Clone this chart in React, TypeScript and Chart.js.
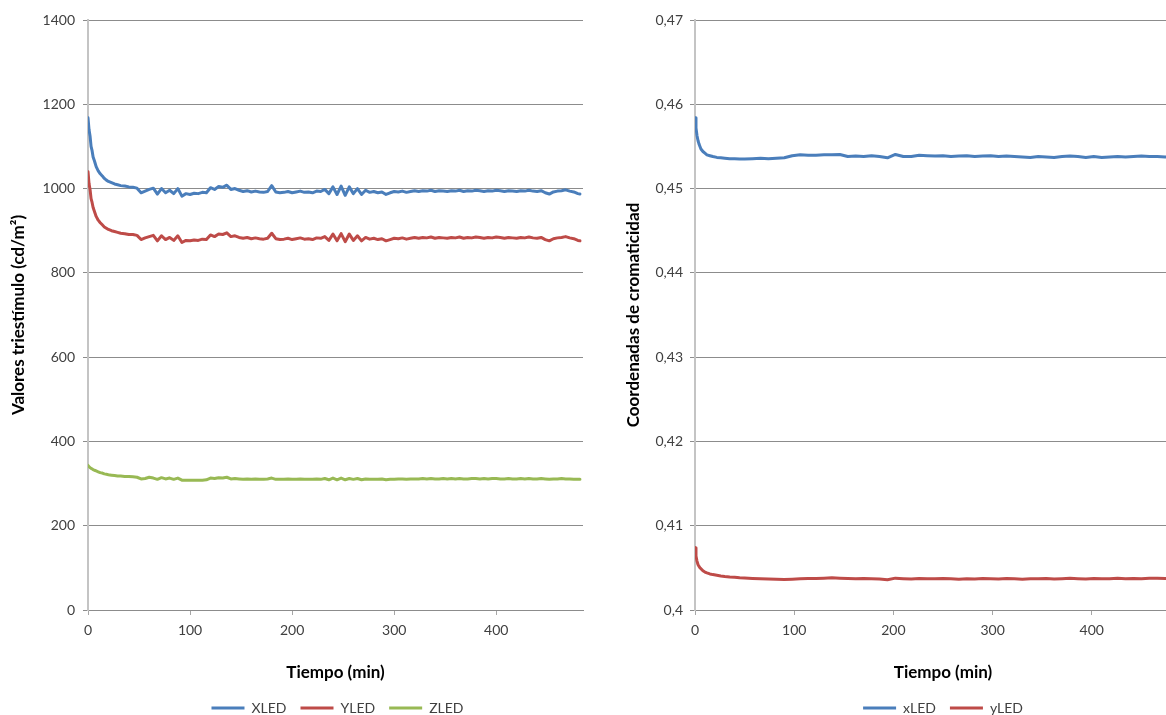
import React, { useEffect, useRef } from 'react';
import { Chart, registerables } from 'chart.js';

Chart.register(...registerables);

// ---------- DATA ----------
// Left chart: tristimulus values (cd/m²) vs time (min)
const leftTime = [
  0, 1, 2, 3, 4, 5, 6, 7, 8, 10, 12, 14, 16, 18, 20, 23, 26, 29, 32, 36, 40, 44,
  48, 52, 56, 60, 64, 68, 72, 76, 80, 84,
  88, 92, 96, 100, 104, 108, 112, 116, 120, 124,
  128, 132, 136, 140, 144, 148, 152, 156, 160, 164,
  168, 172, 176, 180, 184, 188, 192, 196, 200, 204,
  208, 212, 216, 220, 224, 228, 232, 236, 240, 244,
  248, 252, 256, 260, 264, 268, 272, 276, 280, 284,
  288, 292, 296, 300, 304, 308, 312, 316, 320, 324,
  328, 332, 336, 340, 344, 348, 352, 356, 360, 364,
  368, 372, 376, 380, 384, 388, 392, 396, 400, 404,
  408, 412, 416, 420, 424, 428, 432, 436, 440, 444,
  448, 452, 456, 460, 464, 468, 472, 476, 480, 482,
];

const xLedValues = [
  1168, 1140, 1125, 1100, 1090, 1075, 1068, 1060, 1052, 1042, 1035, 1030, 1024, 1020, 1017, 1014, 1011, 1009, 1007, 1006, 1004, 1003,
  1001, 990, 994, 998, 1001, 987, 1000, 990, 996, 988,
  1000, 982, 988, 986, 989, 988, 991, 990, 1002, 998,
  1005, 1003, 1008, 998, 1000, 996, 993, 995, 992, 994,
  992, 991, 993, 1007, 992, 990, 991, 993, 990, 992,
  994, 991, 992, 990, 994, 993, 998, 988, 1004, 986,
  1006, 984, 1004, 988, 1000, 986, 996, 991, 993, 990,
  992, 986, 990, 993, 992, 994, 991, 993, 995, 993,
  995, 994, 996, 993, 995, 994, 993, 995, 994, 996,
  993, 995, 994, 996, 995, 993, 995, 994, 996, 995,
  993, 995, 994, 993, 995, 994, 996, 994, 993, 995,
  990, 987, 992, 994, 995, 997, 994, 992, 988, 987,
];

const yLedValues = [
  1040, 1012, 998, 976, 967, 955, 948, 941, 934, 925, 919, 914, 909, 906, 903, 900, 898, 896, 894, 893, 891, 891,
  889, 879, 883, 886, 889, 876, 888, 879, 884, 877,
  888, 872, 877, 876, 878, 877, 880, 879, 890, 886,
  892, 891, 895, 886, 888, 884, 882, 884, 881, 883,
  881, 880, 882, 894, 881, 879, 880, 882, 879, 881,
  883, 880, 881, 879, 883, 882, 886, 877, 892, 876,
  893, 874, 892, 877, 888, 876, 884, 880, 882, 879,
  881, 876, 879, 882, 881, 883, 880, 882, 884, 882,
  884, 883, 885, 882, 884, 883, 882, 884, 883, 885,
  882, 884, 883, 885, 884, 882, 884, 883, 885, 884,
  882, 884, 883, 882, 884, 883, 885, 883, 882, 884,
  879, 876, 881, 883, 884, 886, 883, 881, 877, 876,
];

const zLedValues = [
  343, 340, 338, 336, 335, 333, 332, 331, 330, 328, 326, 325, 323, 322, 321, 320, 319, 318, 318, 317, 317, 316,
  315, 311, 312, 315, 313, 310, 314, 311, 313, 310,
  313, 308, 308, 308, 308, 308, 308, 309, 313, 312,
  314, 313, 315, 311, 312, 311, 310, 311, 310, 311,
  310, 310, 311, 313, 310, 310, 310, 311, 310, 310,
  311, 310, 310, 310, 311, 310, 312, 309, 313, 309,
  313, 309, 312, 310, 312, 309, 311, 310, 310, 310,
  311, 309, 310, 310, 311, 311, 310, 311, 311, 311,
  312, 311, 312, 311, 311, 312, 311, 312, 311, 312,
  311, 311, 312, 312, 311, 312, 311, 312, 312, 311,
  311, 312, 311, 311, 312, 311, 312, 311, 311, 312,
  311, 310, 311, 311, 312, 311, 311, 310, 310, 310,
];

// Right chart: chromaticity coordinates vs time (min)
const rightTime = [
  0, 1, 2, 3, 4, 5, 6, 8, 10, 12, 15, 18, 22, 26, 30, 35, 40, 45, 50,
  58, 66, 74, 82, 90, 98, 106, 114, 122, 130,
  138, 146, 154, 162, 170, 178, 186, 194, 202, 210,
  218, 226, 234, 242, 250, 258, 266, 274, 282, 290,
  298, 306, 314, 322, 330, 338, 346, 354, 362, 370,
  378, 386, 394, 402, 410, 418, 426, 434, 442, 450,
  458, 466, 474, 482,
];

const xChromValues = [
  0.4584, 0.4572, 0.4563, 0.4557, 0.4553, 0.455, 0.4547, 0.4544, 0.4542, 0.454, 0.4539, 0.4538, 0.4537, 0.45365, 0.4536, 0.45355, 0.45355, 0.4535, 0.4535,
  0.45355, 0.4536, 0.45355, 0.4536, 0.45365, 0.4539, 0.454, 0.45395, 0.45395, 0.454,
  0.454, 0.45405, 0.4538, 0.45385, 0.4538, 0.4539, 0.4538, 0.45365, 0.45405, 0.4538,
  0.4538, 0.45395, 0.4539, 0.45385, 0.4539, 0.4538, 0.45385, 0.4539, 0.4538, 0.45385,
  0.4539, 0.4538, 0.45385, 0.4538, 0.45375, 0.4537, 0.4538, 0.45375, 0.4537, 0.4538,
  0.45385, 0.4538, 0.4537, 0.4538, 0.4537, 0.45375, 0.4538, 0.45375, 0.4538, 0.45385,
  0.4538, 0.4538, 0.45375, 0.4538,
];

const yChromValues = [
  0.4074, 0.4064, 0.4058, 0.4054, 0.4052, 0.405, 0.4049, 0.40465, 0.4045, 0.4044, 0.40428, 0.4042, 0.40412, 0.40404, 0.40398, 0.40392, 0.40388, 0.40382, 0.4038,
  0.40375, 0.40372, 0.40368, 0.40365, 0.40362, 0.40365, 0.4037, 0.40373, 0.40375, 0.40378,
  0.40382, 0.40378, 0.40375, 0.40372, 0.40375, 0.40372, 0.40368, 0.40358, 0.40378, 0.40372,
  0.40368, 0.40374, 0.40372, 0.4037, 0.40374, 0.4037, 0.40364, 0.40372, 0.40368, 0.40374,
  0.40372, 0.40368, 0.40374, 0.4037, 0.40366, 0.40372, 0.4037, 0.40374, 0.40368, 0.40372,
  0.40376, 0.40372, 0.40368, 0.40374, 0.4037, 0.40372, 0.40376, 0.40372, 0.40374, 0.4037,
  0.40376, 0.40378, 0.40374, 0.40376,
];

const timeTicksLeft = [0, 100, 200, 300, 400];
const timeTicksRight = [0, 100, 200, 300, 400, 500];
const tristimulusTicks = [0, 200, 400, 600, 800, 1000, 1200, 1400];
const chromTicks = [0.4, 0.41, 0.42, 0.43, 0.44, 0.45, 0.46, 0.47];

const leftLabels = ['XLED', 'YLED', 'ZLED'];
const rightLabels = ['xLED', 'yLED'];

// ---------- STYLE ----------
const FAMILY = 'Lato, "Open Sans", sans-serif';
const BLUE = '#4A7EBB';
const RED = '#BE4B48';
const GREEN = '#98B954';
const TICK_COLOR = '#404040';
const GRID = '#8c8c8c';

function makeLegendShift(dx: number) {
  return {
    id: 'legendShift',
    afterLayout(chart: any) {
      const lg = chart.legend;
      if (lg) {
        lg.left += dx;
        lg.right += dx;
      }
    },
  };
}

function series(label: string, times: number[], values: number[], color: string) {
  return {
    label,
    data: times.map((t, i) => ({ x: t, y: values[i] })),
    borderColor: color,
    backgroundColor: color,
    borderWidth: 3,
    pointRadius: 0,
    tension: 0,
    fill: false,
    borderJoinStyle: 'round' as const,
    borderCapStyle: 'round' as const,
  };
}

function legendOpts() {
  return {
    position: 'bottom' as const,
    labels: {
      usePointStyle: true,
      pointStyle: 'line',
      pointStyleWidth: 33,
      boxHeight: 14,
      padding: 14,
      color: TICK_COLOR,
      font: { family: FAMILY, size: 14 },
    },
  };
}

function xScale(max: number, ticksArr: number[], title: string) {
  return {
    type: 'linear' as const,
    min: 0,
    max,
    afterBuildTicks: (s: any) => {
      s.ticks = ticksArr.map((v) => ({ value: v }));
    },
    afterFit: (s: any) => {
      s.height = 77;
    },
    grid: { drawOnChartArea: false, drawTicks: true, tickLength: 5, tickColor: '#a6a6a6' },
    border: { color: GRID, width: 1 },
    ticks: {
      padding: 7,
      color: TICK_COLOR,
      font: { family: FAMILY, size: 14 },
      maxRotation: 0,
      autoSkip: false,
    },
    title: {
      display: true,
      text: title,
      color: '#000',
      font: { family: FAMILY, size: 17, weight: 'bold' as const },
      padding: { top: 0, bottom: 4 },
    },
  };
}

function yScale(
  min: number,
  max: number,
  ticksArr: number[],
  width: number,
  tickPad: number,
  title: string,
  titlePad: number,
  fmt: (v: number) => string,
) {
  return {
    type: 'linear' as const,
    min,
    max,
    afterBuildTicks: (s: any) => {
      s.ticks = ticksArr.map((v) => ({ value: v }));
    },
    afterFit: (s: any) => {
      s.width = width;
    },
    grid: { color: GRID, tickColor: GRID, tickLength: 5, lineWidth: 1 },
    border: { color: '#c4c4c4', width: 2 },
    ticks: {
      padding: tickPad,
      color: TICK_COLOR,
      font: { family: FAMILY, size: 14 },
      callback: (v: any) => fmt(Number(v)),
    },
    title: {
      display: true,
      text: title,
      color: '#000',
      font: { family: FAMILY, size: 17, weight: 'bold' as const },
      padding: { top: titlePad, bottom: 0 },
    },
  };
}

export default function App() {
  const leftRef = useRef<HTMLCanvasElement | null>(null);
  const rightRef = useRef<HTMLCanvasElement | null>(null);

  useEffect(() => {
    if (!leftRef.current || !rightRef.current) return;

    const left = new Chart(leftRef.current, {
      type: 'line',
      data: {
        datasets: [
          series(leftLabels[0], leftTime, xLedValues, BLUE),
          series(leftLabels[1], leftTime, yLedValues, RED),
          series(leftLabels[2], leftTime, zLedValues, GREEN),
        ],
      },
      options: {
        responsive: false,
        animation: false,
        devicePixelRatio: 1,
        layout: { padding: { left: 0, top: 20, right: 17, bottom: 0 } },
        plugins: {
          legend: legendOpts() as any,
          tooltip: { enabled: false },
        },
        scales: {
          x: xScale(485, timeTicksLeft, 'Tiempo (min)') as any,
          y: yScale(0, 1400, tristimulusTicks, 88, 8, 'Valores triestímulo (cd/m²)', 8, (v) => String(v)) as any,
        },
      },
      plugins: [makeLegendShift(46)],
    });

    const right = new Chart(rightRef.current, {
      type: 'line',
      data: {
        datasets: [
          series(rightLabels[0], rightTime, xChromValues, BLUE),
          series(rightLabels[1], rightTime, yChromValues, RED),
        ],
      },
      options: {
        responsive: false,
        animation: false,
        devicePixelRatio: 1,
        layout: { padding: { left: 0, top: 20, right: 109, bottom: 0 } },
        plugins: {
          legend: legendOpts() as any,
          tooltip: { enabled: false },
        },
        scales: {
          x: xScale(500, timeTicksRight, 'Tiempo (min)') as any,
          y: yScale(
            0.4,
            0.47,
            chromTicks,
            95,
            7,
            'Coordenadas de cromaticidad',
            23,
            (v) => String(Number(v.toFixed(2))).replace('.', ','),
          ) as any,
        },
      },
      plugins: [makeLegendShift(47.5)],
    });

    return () => {
      left.destroy();
      right.destroy();
    };
  }, []);

  return (
    <div
      style={{
        position: 'fixed',
        left: 0,
        top: 0,
        width: 1166,
        height: 715,
        overflow: 'hidden',
        background: '#ffffff',
      }}
    >
      <canvas ref={leftRef} width={600} height={725} style={{ position: 'absolute', left: 0, top: 0 }} />
      <canvas ref={rightRef} width={700} height={725} style={{ position: 'absolute', left: 600, top: 0 }} />
    </div>
  );
}
